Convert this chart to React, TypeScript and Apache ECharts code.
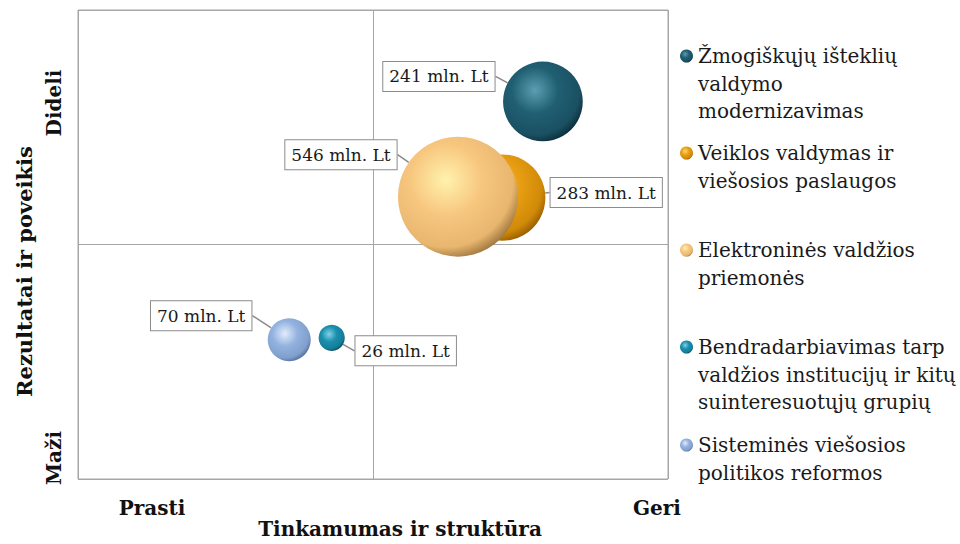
import React, { useEffect, useRef } from "react";
import * as echarts from "echarts";

const seriesNames = [
  "Žmogiškųjų išteklių\nvaldymo\nmodernizavimas",
  "Veiklos valdymas ir\nviešosios paslaugos",
  "Elektroninės valdžios\npriemonės",
  "Bendradarbiavimas tarp\nvaldžios institucijų ir kitų\nsuinteresuotųjų grupių",
  "Sisteminės viešosios\npolitikos reformos",
];
const suitability = [7.88, 7.19, 6.44, 4.3, 3.58];
const results = [8.05, 6.0, 6.02, 3.01, 2.97];
const budgets = [241, 283, 546, 26, 70];
const unit = " mln. Lt";
const xLabels = ["Prasti", "Geri"];
const yLabels = ["Maži", "Dideli"];
const xTitle = "Tinkamumas ir struktūra";
const yTitle = "Rezultatai ir poveikis";

// styling
const palettes = [
  { hi: "#5c9eb2", base: "#205f72", mid: "#1a5062", dark: "#0a2630" },
  { hi: "#ffd774", base: "#e99f14", mid: "#d18a08", dark: "#8a5400" },
  { hi: "#fff2ad", base: "#f8c77f", mid: "#e8b66e", dark: "#8e6836" },
  { hi: "#7fd2e8", base: "#1a8fae", mid: "#147d99", dark: "#083f50" },
  { hi: "#e2ecfb", base: "#93b2df", mid: "#819fcd", dark: "#4a6494" },
];
const labelOffsets = [
  [-104, -25],
  [104, -5],
  [-117, -42],
  [74, 13],
  [-88, -24],
];
const legendFirstLine = [56, 153, 250, 347, 445];
const LH = 27.5;
const SERIF = "'DejaVu Serif', 'Liberation Serif', serif";

function grad(p: { hi: string; base: string; mid: string; dark: string }) {
  return new echarts.graphic.RadialGradient(0.4, 0.36, 0.7, [
    { offset: 0, color: p.hi },
    { offset: 0.42, color: p.base },
    { offset: 0.8, color: p.mid },
    { offset: 1, color: p.dark },
  ]);
}

export default function App() {
  const ref = useRef<HTMLDivElement>(null);
  useEffect(() => {
    if (!ref.current) return;
    const chart = echarts.init(ref.current, null, { renderer: "svg" });
    const maxB = Math.max(...budgets);

    const series = seriesNames.map((name, i) => ({
      type: "scatter",
      name,
      data: [[suitability[i], results[i], budgets[i]]],
      symbol: "circle",
      symbolSize: (d: number[]) => 120 * Math.sqrt(d[2] / maxB),
      itemStyle: { color: grad(palettes[i]), opacity: 1 },
      emphasis: { disabled: true },
      label: {
        show: true,
        position: "inside",
        formatter: (p: any) => p.value[2] + unit,
        fontFamily: SERIF,
        fontSize: 17,
        color: "#1a1a1a",
        backgroundColor: "#ffffff",
        borderColor: "#8c8c8c",
        borderWidth: 1,
        padding: [7, 6, 5, 6],
      },
      labelLine: { show: true, lineStyle: { color: "#8a8a8a", width: 1.5 } },
      labelLayout: (p: any) => {
        const cx = p.rect.x + p.rect.width / 2;
        const cy = p.rect.y + p.rect.height / 2;
        const lx = cx + labelOffsets[i][0];
        const ly = cy + labelOffsets[i][1];
        const w = p.labelRect.width;
        const h = p.labelRect.height;
        const vx = cx - lx;
        const vy = cy - ly;
        const t = Math.min(
          w / 2 / Math.max(Math.abs(vx), 1e-6),
          h / 2 / Math.max(Math.abs(vy), 1e-6)
        );
        const ex = lx + vx * t;
        const ey = ly + vy * t;
        return {
          x: lx,
          y: ly,
          align: "center",
          verticalAlign: "middle",
          labelLinePoints: [
            [ex, ey],
            [(ex + cx) / 2, (ey + cy) / 2],
            [cx, cy],
          ],
        };
      },
      z: 2 + i,
    }));

    const legends = seriesNames.map((name, i) => {
      const n = name.split("\n").length;
      return {
        data: [name],
        left: 680,
        top: legendFirstLine[i] - ((2 * n - 1) * LH) / 2,
        padding: 0,
        orient: "vertical",
        icon: "circle",
        itemWidth: 13,
        itemHeight: 13,
        itemGap: 0,
        selectedMode: false,
        formatter: (nm: string) => "\n".repeat(n - 1) + nm,
        textStyle: {
          fontFamily: SERIF,
          fontSize: 20,
          lineHeight: LH,
          color: "#1a1a1a",
        },
      };
    });

    const boldText = {
      fontFamily: SERIF,
      fontWeight: "bold",
      fill: "#111",
    };

    chart.setOption({
      animation: false,
      backgroundColor: "#ffffff",
      grid: {
        left: 78,
        top: 10,
        width: 590,
        height: 472,
        show: true,
        borderColor: "#a6a6a6",
        borderWidth: 1,
      },
      xAxis: {
        type: "value",
        min: 0,
        max: 10,
        interval: 5,
        axisLine: { show: false },
        axisTick: { show: false },
        axisLabel: { show: false },
        splitLine: { show: true, lineStyle: { color: "#a6a6a6", width: 1 } },
        name: xTitle,
        nameLocation: "middle",
        nameGap: 40,
        nameTextStyle: {
          fontFamily: SERIF,
          fontSize: 20,
          fontWeight: "bold",
          color: "#111",
          padding: [0, 0, 0, 54],
        },
      },
      yAxis: {
        type: "value",
        min: 0,
        max: 10,
        interval: 5,
        axisLine: { show: false },
        axisTick: { show: false },
        axisLabel: { show: false },
        splitLine: { show: true, lineStyle: { color: "#a6a6a6", width: 1 } },
        name: yTitle,
        nameLocation: "middle",
        nameGap: 43,
        nameRotate: 90,
        nameTextStyle: {
          fontFamily: SERIF,
          fontSize: 21,
          fontWeight: "bold",
          color: "#111",
          padding: [0, 54, 0, 0],
        },
      },
      legend: legends,
      graphic: [
        { type: "text", x: 152, y: 508, style: { ...boldText, fontSize: 20, text: xLabels[0], align: "center", verticalAlign: "middle" } },
        { type: "text", x: 657, y: 508, style: { ...boldText, fontSize: 20, text: xLabels[1], align: "center", verticalAlign: "middle" } },
        { type: "text", x: 54, y: 458, rotation: Math.PI / 2, style: { ...boldText, fontSize: 20, text: yLabels[0], align: "center", verticalAlign: "middle" } },
        { type: "text", x: 54, y: 103, rotation: Math.PI / 2, style: { ...boldText, fontSize: 20, text: yLabels[1], align: "center", verticalAlign: "middle" } },
      ],
      series,
    });
    return () => chart.dispose();
  }, []);
  return (
    <div
      ref={ref}
      style={{ position: "fixed", left: 0, top: 0, width: 960, height: 544 }}
    />
  );
}
